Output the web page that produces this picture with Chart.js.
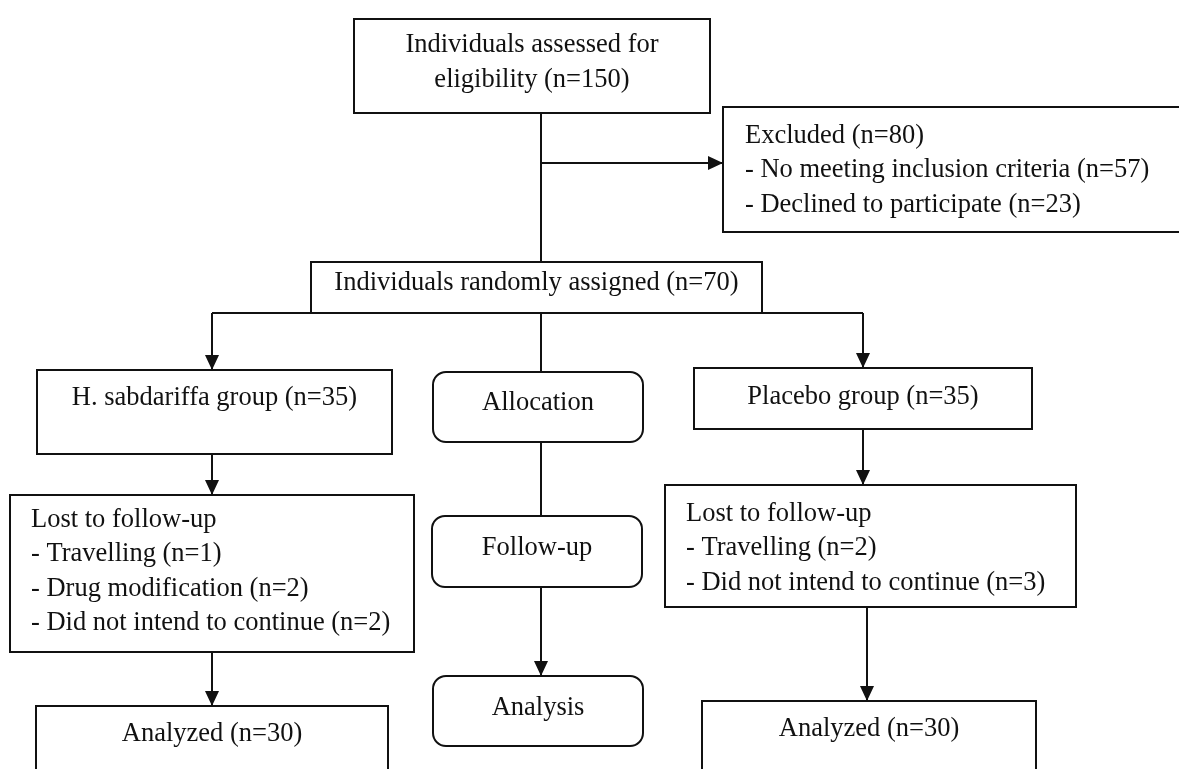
<!DOCTYPE html>
<html>
<head>
<meta charset="utf-8">
<script src="https://cdn.jsdelivr.net/npm/chart.js@4.4.0/dist/chart.umd.min.js"></script>
<style>
  html, body { margin: 0; padding: 0; background: #fff; }
  canvas { display: block; }
</style>
</head>
<body>
<canvas id="flow" width="1179" height="769"></canvas>
<script>
// 흐름도 데이터
const screenedN = 150;
const excludedReasons = ['No meeting inclusion criteria', 'Declined to participate'];
const excludedN = [57, 23];
const randomizedN = 70;
const groupNames = ['H. sabdariffa group', 'Placebo group'];
const groupN = [35, 35];
const lostReasonsH = ['Travelling', 'Drug modification', 'Did not intend to continue'];
const lostH = [1, 2, 2];
const lostReasonsP = ['Travelling', 'Did not intend to continue'];
const lostP = [2, 3];
const analyzedN = [30, 30];
const stages = ['Allocation', 'Follow-up', 'Analysis'];

const sum = arr => arr.reduce((a, b) => a + b, 0);
const dash = (names, ns) => names.map((t, i) => '- ' + t + ' (n=' + ns[i] + ')');

// 박스 배치 (x0, y0, x1, y1) - 축 값 기준
const boxes = [
  { r: [354, 19, 710, 113], lines: ['Individuals assessed for', 'eligibility (n=' + screenedN + ')'], align: 'center', ty: 45 },
  { r: [723, 107, 1195, 232], lines: ['Excluded (n=' + sum(excludedN) + ')'].concat(dash(excludedReasons, excludedN)), align: 'left', tx: 745, ty: 136, lh: 34.5 },
  { r: [311, 262, 762, 313], lines: ['Individuals randomly assigned (n=' + randomizedN + ')'], align: 'center', ty: 283 },
  { r: [37, 370, 392, 454], lines: [groupNames[0] + ' (n=' + groupN[0] + ')'], align: 'center', ty: 398 },
  { r: [433, 372, 643, 442], lines: [stages[0]], align: 'center', ty: 403, round: true },
  { r: [694, 368, 1032, 429], lines: [groupNames[1] + ' (n=' + groupN[1] + ')'], align: 'center', ty: 397 },
  { r: [10, 495, 414, 652], lines: ['Lost to follow-up'].concat(dash(lostReasonsH, lostH)), align: 'left', tx: 31, ty: 520, lh: 34.5 },
  { r: [432, 516, 642, 587], lines: [stages[1]], align: 'center', ty: 548, round: true },
  { r: [665, 485, 1076, 607], lines: ['Lost to follow-up'].concat(dash(lostReasonsP, lostP)), align: 'left', tx: 686, ty: 514, lh: 34.5 },
  { r: [433, 676, 643, 746], lines: [stages[2]], align: 'center', ty: 708, round: true },
  { r: [36, 706, 388, 800], lines: ['Analyzed (n=' + analyzedN[0] + ')'], align: 'center', ty: 734 },
  { r: [702, 701, 1036, 800], lines: ['Analyzed (n=' + analyzedN[1] + ')'], align: 'center', ty: 729 }
];

// 연결선 [시작, 끝, 화살표 여부]
const links = [
  [[541, 113], [541, 262], false],
  [[541, 163], [723, 163], true],
  [[541, 313], [541, 372], false],
  [[212, 313], [863, 313], false],
  [[212, 313], [212, 370], true],
  [[863, 313], [863, 368], true],
  [[212, 454], [212, 495], true],
  [[863, 429], [863, 485], true],
  [[541, 442], [541, 516], false],
  [[541, 587], [541, 676], true],
  [[212, 652], [212, 706], true],
  [[867, 607], [867, 701], true]
];

const ink = '#111';
const font = '26.5px "Liberation Serif", "Times New Roman", serif';

const datasets = links.map(function (l) {
  return {
    data: [{ x: l[0][0], y: l[0][1] }, { x: l[1][0], y: l[1][1] }],
    showLine: true,
    borderColor: ink,
    borderWidth: 2,
    pointRadius: 0,
    clip: false
  };
});

const flowPlugin = {
  id: 'flowBoxes',
  beforeDatasetsDraw(chart) {
    const ctx = chart.ctx;
    const sx = chart.scales.x, sy = chart.scales.y;
    ctx.save();
    ctx.lineWidth = 2;
    ctx.strokeStyle = ink;
    ctx.fillStyle = ink;
    ctx.font = font;
    ctx.textBaseline = 'middle';
    boxes.forEach(function (b) {
      const x0 = sx.getPixelForValue(b.r[0]), y0 = sy.getPixelForValue(b.r[1]);
      const x1 = sx.getPixelForValue(b.r[2]), y1 = sy.getPixelForValue(b.r[3]);
      ctx.beginPath();
      if (b.round) {
        ctx.roundRect(x0, y0, x1 - x0, y1 - y0, 13);
      } else {
        ctx.rect(x0, y0, x1 - x0, y1 - y0);
      }
      ctx.stroke();
      const lh = b.lh || 35;
      b.lines.forEach(function (t, i) {
        const y = sy.getPixelForValue(b.ty + i * lh);
        if (b.align === 'left') {
          ctx.textAlign = 'left';
          ctx.fillText(t, sx.getPixelForValue(b.tx), y);
        } else {
          ctx.textAlign = 'center';
          ctx.fillText(t, (x0 + x1) / 2, y);
        }
      });
    });
    ctx.restore();
  },
  afterDatasetsDraw(chart) {
    const ctx = chart.ctx;
    const sx = chart.scales.x, sy = chart.scales.y;
    ctx.save();
    ctx.fillStyle = ink;
    links.forEach(function (l) {
      if (!l[2]) return;
      const ax = sx.getPixelForValue(l[0][0]), ay = sy.getPixelForValue(l[0][1]);
      const bx = sx.getPixelForValue(l[1][0]), by = sy.getPixelForValue(l[1][1]);
      const ang = Math.atan2(by - ay, bx - ax);
      const len = 15, half = 7;
      ctx.beginPath();
      ctx.moveTo(bx, by);
      ctx.lineTo(bx - len * Math.cos(ang) + half * Math.sin(ang), by - len * Math.sin(ang) - half * Math.cos(ang));
      ctx.lineTo(bx - len * Math.cos(ang) - half * Math.sin(ang), by - len * Math.sin(ang) + half * Math.cos(ang));
      ctx.closePath();
      ctx.fill();
    });
    ctx.restore();
  }
};

new Chart(document.getElementById('flow').getContext('2d'), {
  type: 'scatter',
  data: { datasets: datasets },
  options: {
    responsive: false,
    animation: false,
    layout: { padding: 0 },
    plugins: { legend: { display: false }, tooltip: { enabled: false } },
    scales: {
      x: { type: 'linear', min: 0, max: 1179, display: false },
      y: { type: 'linear', min: 0, max: 769, reverse: true, display: false }
    }
  },
  plugins: [flowPlugin]
});
</script>
</body>
</html>
